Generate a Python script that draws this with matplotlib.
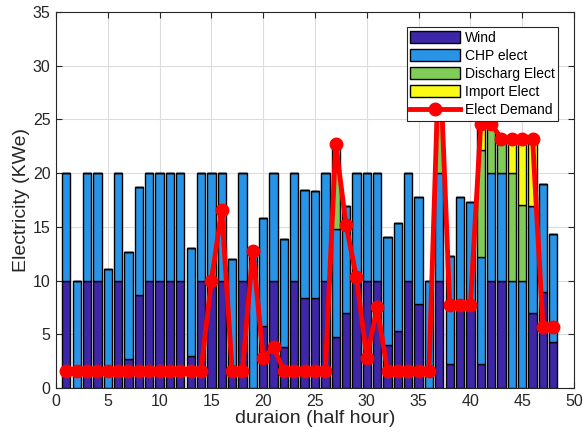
import numpy as np
import matplotlib
matplotlib.use("Agg")
import matplotlib.pyplot as plt

# half-hour slots
slots = np.arange(1, 49)

wind = [10, 0, 10, 10, 0, 10, 2.7, 8.7, 10, 10, 10, 10, 3.0, 10, 10, 10,
        2.0, 10, 0, 5.8, 10, 3.85, 10, 8.4, 8.35, 10, 4.8, 6.95, 10, 10, 10, 4.05,
        5.35, 10, 7.8, 0, 10, 2.25, 7.8, 7.3, 2.2, 10, 10, 0, 0, 6.95, 8.95, 4.3]
chp = [10, 10, 10, 10, 11.1, 10, 10, 10, 10, 10, 10, 10, 10, 10, 10, 10,
       10, 10, 12.8, 10, 10, 10, 10, 10, 10, 10, 10, 10, 10, 10, 10, 10,
       10, 10, 10, 10, 10, 10, 10, 10, 10, 10, 10, 10, 10, 10, 10, 10]
discharge = [0] * 26 + [7.9] + [0] * 9 + [12] + [0] * 3 + [10, 4.6, 3.2, 10, 7, 0, 0, 0]
imported = [0] * 40 + [2.4, 0, 0, 3.2, 6.2, 6.25, 0, 0]
demand = [1.6] * 14 + [10.0, 16.6, 1.6, 1.6, 12.8, 2.8, 3.8] + [1.6] * 5 + \
         [22.7, 15.2, 10.3, 2.8, 7.5] + [1.6] * 5 + [32, 7.7, 7.7, 7.7, 24.6, 24.6,
                                                     23.2, 23.2, 23.2, 23.2, 5.7, 5.7]

series = [wind, chp, discharge, imported]
names = ["Wind", "CHP elect", "Discharg Elect", "Import Elect"]
colors = ["#3E26A8", "#2894E8", "#80CC59", "#F9FB15"]

plt.rcParams["font.family"] = ["Liberation Sans", "DejaVu Sans"]

fig = plt.figure(figsize=(5.83, 4.4), dpi=100)
ax = fig.add_axes([0.096, 0.118, 0.8886, 0.8547])

bottom = np.zeros(len(slots))
handles = []
for vals, name, col in zip(series, names, colors):
    vals = np.array(vals, dtype=float)
    h = ax.bar(slots, vals, width=0.8, bottom=bottom, color=col,
               edgecolor="black", linewidth=1.0, label=name, zorder=2)
    handles.append(h)
    bottom += vals

line, = ax.plot(slots, demand, color="red", linewidth=3.5, marker="o",
                markersize=9, markerfacecolor="red", markeredgecolor="red",
                label="Elect Demand", zorder=3)
handles.append(line)

ax.set_xlim(0, 50)
ax.set_ylim(0, 35)
ax.set_xticks(np.arange(0, 51, 5))
ax.set_yticks(np.arange(0, 36, 5))
ax.grid(True, color="#DCDCDC", linewidth=0.8, zorder=0)
ax.set_axisbelow(True)
ax.tick_params(direction="in", top=True, right=True, labelsize=11.5,
               colors="#262626", length=4, pad=4)
for sp in ax.spines.values():
    sp.set_color("#262626")
    sp.set_linewidth(0.8)

ax.set_xlabel("duraion (half hour)", fontsize=14, color="#262626", labelpad=1)
ax.set_ylabel("Electricity (KWe)", fontsize=14, color="#262626", labelpad=2)

leg = ax.legend(handles=handles, loc="upper right", bbox_to_anchor=(0.969, 0.96),
                fontsize=10, frameon=True, fancybox=False, framealpha=1.0,
                edgecolor="#262626", handlelength=3.6, handleheight=0.95,
                borderpad=0.25, labelspacing=0.3, handletextpad=0.3,
                borderaxespad=0)
leg.get_frame().set_linewidth(0.8)
leg.set_zorder(5)

fig.savefig("out.png", dpi=100)
